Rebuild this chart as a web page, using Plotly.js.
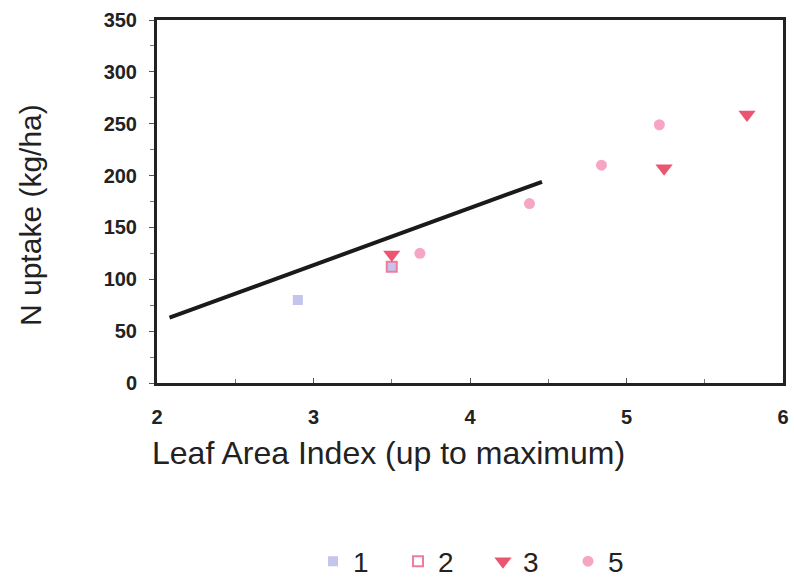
<!DOCTYPE html>
<html>
<head>
<meta charset="utf-8">
<script src="https://cdn.plot.ly/plotly-3.0.1.min.js"></script>
<style>html,body{margin:0;padding:0;background:#fff;}#chart{width:794px;height:580px;}</style>
</head>
<body>
<div id="chart"></div>
<script>
// Data
const s1X = [2.9, 3.5];
const s1Y = [80, 112];
const s2X = [3.5];
const s2Y = [112];
const s3X = [3.5, 5.24, 5.77];
const s3Y = [124, 207, 259];
const s5X = [3.68, 4.38, 4.84, 5.21];
const s5Y = [125, 173, 210, 249];
const fitX = [2.08, 4.46];
const fitY = [63, 194];
const seriesNames = ["1", "2", "3", "5"];
const xTitle = "Leaf Area Index (up to maximum)";
const yTitle = "N uptake (kg/ha)";

const traces = [
  {x: s1X, y: s1Y, name: seriesNames[0], mode: "markers", type: "scatter",
   marker: {symbol: "square", size: 10, color: "#c4c4ec"}},
  {x: s2X, y: s2Y, name: seriesNames[1], mode: "markers", type: "scatter",
   marker: {symbol: "square-open", size: 10, color: "#f07c9c", line: {width: 2, color: "#f07c9c"}}},
  {x: s3X, y: s3Y, name: seriesNames[2], mode: "markers", type: "scatter",
   marker: {symbol: "triangle-down", size: 15, color: "#ea5670"}},
  {x: s5X, y: s5Y, name: seriesNames[3], mode: "markers", type: "scatter",
   marker: {symbol: "circle", size: 11, color: "#f6a6c4"}},
  {x: fitX, y: fitY, mode: "lines", type: "scatter", showlegend: false,
   line: {color: "#1a1a1a", width: 4}, hoverinfo: "skip"}
];

const layout = {
  width: 794, height: 580,
  margin: {l: 157, r: 11, t: 20, b: 197, autoexpand: false},
  paper_bgcolor: "#fff", plot_bgcolor: "#fff",
  font: {family: "Liberation Sans, Arial, sans-serif", color: "#222"},
  showlegend: true,
  legend: {orientation: "h", x: 313 / 794, xref: "container", xanchor: "left",
           y: 0.032, yref: "container", yanchor: "middle",
           entrywidth: 40, entrywidthmode: "pixels",
           font: {size: 28, color: "#222"}, itemwidth: 30, tracegroupgap: 0},
  xaxis: {range: [2, 6], dtick: 1, tick0: 2, showgrid: false, zeroline: false,
          showline: true, linewidth: 3, linecolor: "#222", mirror: true,
          ticks: "inside", ticklen: 5, tickcolor: "#555", ticklabelstandoff: 14,
          minor: {dtick: 0.5, ticks: "inside", ticklen: 4, tickcolor: "#777"},
          tickfont: {size: 20, color: "#222", weight: "bold"}},
  yaxis: {range: [0, 350], dtick: 50, showgrid: false, zeroline: false,
          showline: true, linewidth: 3, linecolor: "#222", mirror: true,
          ticks: "outside", ticklen: 5, tickcolor: "#555", ticklabelstandoff: 8,
          minor: {dtick: 25, ticks: "outside", ticklen: 4, tickcolor: "#777"},
          tickfont: {size: 20, color: "#222", weight: "bold"}},
  annotations: [
    {text: xTitle, xref: "paper", yref: "paper", x: (388 - 157) / 626, y: -(453 - 383) / 363,
     xanchor: "center", yanchor: "middle", showarrow: false, font: {size: 32, color: "#222"}},
    {text: yTitle, xref: "paper", yref: "paper", x: (30 - 157) / 626, y: (383 - 215) / 363,
     xanchor: "center", yanchor: "middle", textangle: -90, showarrow: false, font: {size: 30, color: "#222"}}
  ]
};

Plotly.newPlot("chart", traces, layout, {displayModeBar: false, staticPlot: true});
</script>
</body>
</html>
